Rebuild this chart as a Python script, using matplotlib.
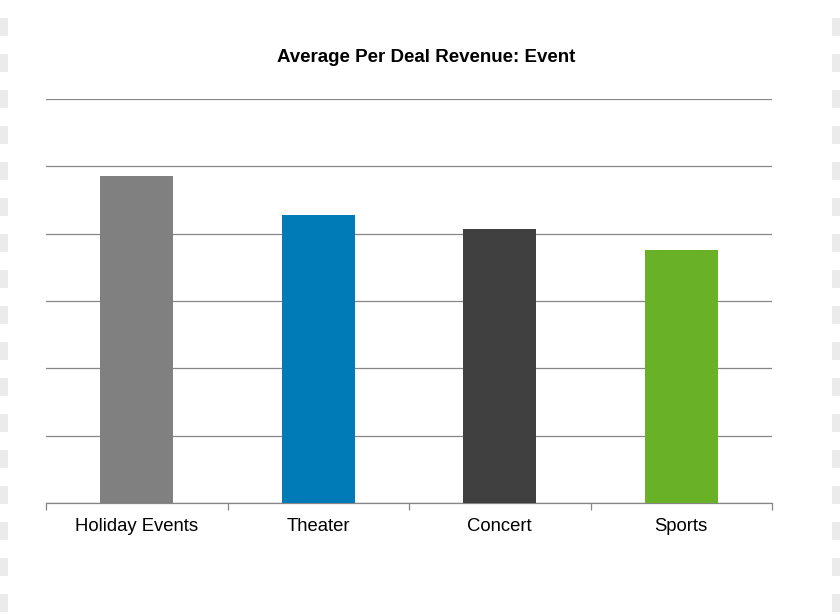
import matplotlib
matplotlib.use("Agg")
import matplotlib.pyplot as plt
from matplotlib.patches import Rectangle

plt.rcParams["font.family"] = ["Liberation Sans", "DejaVu Sans"]

categories = ["Holiday Events", "Theater", "Concert", "Sports"]
values = [4.86, 4.28, 4.07, 3.76]
colors = ["#808080", "#007BB8", "#404040", "#69B228"]
title = "Average Per Deal Revenue: Event"

W, H = 840, 614
fig = plt.figure(figsize=(W / 100, H / 100), dpi=100)
ax = fig.add_axes([46 / W, (H - 503) / H, (772 - 46) / W, (503 - 99) / H])

# checkerboard-ish strips at the left/right edges of the original image
for k in range(17):
    y0 = 18 + 36 * k
    for x0 in (0, 832):
        fig.patches.append(Rectangle((x0 / W, 1 - (y0 + 18) / H), 8 / W, 18 / H,
                                     transform=fig.transFigure, color="#ebebeb", lw=0, zorder=0))

x = range(len(categories))
ax.bar(x, values, width=0.4, color=colors, zorder=3)

ax.set_xlim(-0.5, len(categories) - 0.5)
ax.set_ylim(0, 6)
ax.set_yticks(range(0, 7))
ax.yaxis.grid(True, color="#868686", lw=0.9)
ax.tick_params(axis="y", left=False, labelleft=False)
ax.set_axisbelow(True)

ax.set_xticks(list(x))
ax.set_xticklabels(categories, fontsize=13.3)
ax.tick_params(axis="x", length=0, pad=11)
ax.set_xticks([i + 0.5 for i in range(-1, len(categories))], minor=True)
ax.tick_params(axis="x", which="minor", length=5, color="#868686", width=0.9)

for s in ("top", "left", "right"):
    ax.spines[s].set_visible(False)
ax.spines["bottom"].set_color("#868686")
ax.spines["bottom"].set_linewidth(0.9)

fig.text(426 / W, 1 - 58 / H, title, ha="center", va="center",
         fontsize=13.5, fontweight="bold")

fig.savefig("out.png", dpi=100, facecolor="white")
